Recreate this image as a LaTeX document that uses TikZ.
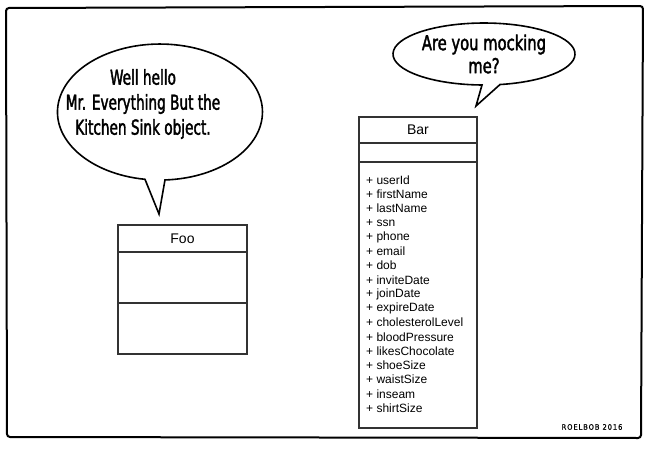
\documentclass[tikz,border=0pt]{standalone}
\usepackage{fontspec}
\setmainfont{Liberation Sans}
\newfontfamily\comicfont[FakeStretch=0.8,FakeBold=1.8]{DejaVu Sans Condensed}
\newfontfamily\comicnarrow[FakeStretch=0.74,FakeBold=1.8]{DejaVu Sans Condensed}
\newfontfamily\sigfont[LetterSpace=12,FakeBold=0.8]{DejaVu Sans Condensed}
\definecolor{umlgray}{HTML}{333333}
\begin{document}
\begin{tikzpicture}[x=1pt,y=-1pt,
  umlbox/.style={draw=umlgray, line width=1.1pt, minimum width=#1, inner sep=0pt, outer sep=0pt, anchor=north west},
  bubble/.style={draw=black, line width=1.6pt, fill=white, line join=miter},
  comic/.style={font=\comicfont\fontsize{20.5}{25}\selectfont, align=center, inner sep=0pt},
  umltitle/.style={font=\fontsize{14}{16}\selectfont, inner sep=0pt},
  attr/.style={font=\fontsize{12}{14}\selectfont, inner sep=0pt, anchor=west}]
\useasboundingbox (0,0) rectangle (650,450);
\fill[white] (0,0) rectangle (650,450);
% frame
\draw[line width=2pt, rounded corners=3pt] (6,8) -- (643,6) -- (641,438) -- (7,437) -- cycle;

% left speech bubble
\draw[bubble] (145pt,-179.3pt) arc[start angle=261.6, end angle=-87.2, x radius=102.5pt, y radius=68pt] -- (159,214) -- cycle;
\node[comic, font=\comicnarrow\fontsize{20.5}{25}\selectfont] (hello) at (143,104) {Well hello\\Mr. Everything But the\\Kitchen Sink object.};

% right speech bubble
\draw[bubble] (482pt,-85pt) arc[start angle=268.74, end angle=-79.87, x radius=91pt, y radius=31pt] -- (476,106) -- cycle;
\node[comic, font=\comicfont\fontsize{20.5}{23}\selectfont] (mock) at (484,54) {Are you mocking\\me?};

% Foo class
\node[umlbox=129pt, minimum height=27pt] (foohead) at (118,225) {};
\node[umltitle] (footitle) at (foohead.center) {Foo};
\node[umlbox=129pt, minimum height=51pt] (fooattr) at (foohead.south west) {};
\node[umlbox=129pt, minimum height=51pt] (fooops) at (fooattr.south west) {};

% Bar class
\node[umlbox=118pt, minimum height=26pt] (barhead) at (359,117) {};
\node[umltitle] (bartitle) at (barhead.center) {Bar};
\node[umlbox=118pt, minimum height=19pt] (barmid) at (barhead.south west) {};
\node[umlbox=118pt, minimum height=266pt] (barbody) at (barmid.south west) {};
\foreach \t [count=\i from 0] in {userId,firstName,lastName,ssn,phone,email,dob,inviteDate,joinDate,expireDate,cholesterolLevel,bloodPressure,likesChocolate,shoeSize,waistSize,inseam,shirtSize}
  \node[attr] (attr\i) at (366,180+14.25*\i) {+ \t};

% signature
\node[font=\sigfont\fontsize{7.5}{8}\selectfont, inner sep=0pt] (sig) at (592,427) {ROELBOB 2016};
\end{tikzpicture}
\end{document}
